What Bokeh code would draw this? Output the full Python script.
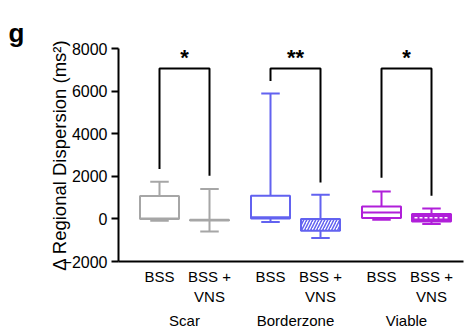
from bokeh.plotting import figure
from bokeh.models import FixedTicker, LinearAxis
from bokeh.core.properties import value
from bokeh.embed import file_html
from bokeh.resources import INLINE

# ---- data ----
groups = ["Scar", "Borderzone", "Viable"]
conditions = ["BSS", "BSS +\nVNS"]
colors = ["#a6a6a6", "#6262f0", "#b01fd9"]
box_min = [-90, -590, -140, -900, -40, -245]
box_q1 = [0, -70, 20, -560, 38, -120]
box_med = [20, -56, 80, -150, 300, 50]
box_q3 = [1080, -40, 1084, -10, 582, 225]
box_max = [1740, 1400, 5890, 1130, 1290, 490]
stars = ["*", "**", "*"]
bracket_top = [7060, 7060, 7060]
leg_left = [2340, 6480, 1930]
leg_right = [2020, 1710, 1085]
y_ticks = [-2000, 0, 2000, 4000, 6000, 8000]

FONT = "Liberation Sans"
GAP = 2.22
BOX_W = 0.78
CAP_W = 0.37

xs = [g * GAP + j + 1 for g in range(len(groups)) for j in range(len(conditions))]
box_colors = [colors[g] for g in range(len(groups)) for j in range(len(conditions))]

p = figure(frame_width=345, frame_height=213, x_range=(0.18, 7.08), y_range=(-2000, 8000),
           output_backend="svg", toolbar_location=None,
           min_border_left=118, min_border_top=48, min_border_right=1, min_border_bottom=0,
           x_axis_location=None)
p.xgrid.visible = False
p.ygrid.visible = False
p.outline_line_color = None
p.background_fill_color = "white"
p.border_fill_color = "white"

# panel letter
p.title.text = "g"
p.title.align = "left"
p.title.offset = -110
p.title.standoff = 2
p.title.text_font = FONT
p.title.text_font_style = "bold"
p.title.text_font_size = "26px"
p.title.text_color = "black"

# y axis
ya = p.yaxis[0]
ya.ticker = FixedTicker(ticks=y_ticks)
ya.axis_line_width = 2
ya.major_tick_line_width = 2
ya.major_tick_out = 7
ya.major_tick_in = 0
ya.minor_tick_line_color = None
ya.major_label_text_font = FONT
ya.major_label_text_font_size = "16px"
ya.major_label_text_color = "black"
ya.major_label_standoff = 4
ya.axis_label = "\u0394 Regional Dispersion (ms\u00b2)"
ya.axis_label_text_font = FONT
ya.axis_label_text_font_size = "18.5px"
ya.axis_label_text_font_style = "normal"
ya.axis_label_text_color = "black"
ya.axis_label_standoff = -10

# x axis with condition labels
xa = LinearAxis(ticker=FixedTicker(ticks=xs),
                major_label_overrides={x: conditions[i % 2] for i, x in enumerate(xs)})
xa.axis_line_width = 2
xa.major_tick_line_color = None
xa.major_tick_out = 0
xa.major_tick_in = 0
xa.minor_tick_line_color = None
xa.major_label_text_font = FONT
xa.major_label_text_font_size = "15px"
xa.major_label_text_color = "black"
xa.major_label_text_line_height = 1.2
xa.major_label_standoff = 6
p.add_layout(xa, "below")

centers = [(xs[2 * g] + xs[2 * g + 1]) / 2 for g in range(len(groups))]
ga = LinearAxis(ticker=FixedTicker(ticks=centers),
                major_label_overrides={c: groups[i] for i, c in enumerate(centers)})
ga.axis_line_color = None
ga.major_tick_line_color = None
ga.major_tick_out = 0
ga.major_tick_in = 0
ga.minor_tick_line_color = None
ga.major_label_text_font = FONT
ga.major_label_text_font_size = "15px"
ga.major_label_text_color = "black"
ga.major_label_standoff = 4
p.add_layout(ga, "below")

# whiskers
p.segment(x0=xs, y0=box_min, x1=xs, y1=box_max, line_color=box_colors, line_width=2)
p.segment(x0=[x - CAP_W / 2 for x in xs], y0=box_max, x1=[x + CAP_W / 2 for x in xs], y1=box_max,
          line_color=box_colors, line_width=2)
p.segment(x0=[x - CAP_W / 2 for x in xs], y0=box_min, x1=[x + CAP_W / 2 for x in xs], y1=box_min,
          line_color=box_colors, line_width=2)

# boxes
fills = ["white", "white", "white", "white", "white", colors[2]]
for i, x in enumerate(xs):
    kw = {}
    if i == 3:
        kw = dict(hatch_pattern="/", hatch_color=colors[1], hatch_scale=6, hatch_weight=1.5)
    p.quad(left=[x - BOX_W / 2], right=[x + BOX_W / 2], bottom=[box_q1[i]], top=[box_q3[i]],
           fill_color=fills[i], line_color=box_colors[i], line_width=2, **kw)
    if i == 5:
        p.segment(x0=[x - BOX_W / 2 + 0.05], y0=[box_med[i]], x1=[x + BOX_W / 2 - 0.05], y1=[box_med[i]],
                  line_color="white", line_width=1.5, line_dash="3 2")
    elif i != 3:
        p.segment(x0=[x - BOX_W / 2], y0=[box_med[i]], x1=[x + BOX_W / 2], y1=[box_med[i]],
                  line_color=box_colors[i], line_width=2)

# significance brackets
bx, by = [], []
for g in range(len(groups)):
    xl, xr = xs[2 * g], xs[2 * g + 1]
    bx.append([xl, xl, xr, xr])
    by.append([leg_left[g], bracket_top[g], bracket_top[g], leg_right[g]])
p.multi_line(xs=bx, ys=by, line_color="black", line_width=2)
p.text(x=centers, y=[b + 500 for b in bracket_top], text=stars, text_font=value(FONT),
       text_font_style="bold", text_font_size="22px", text_align="center", text_baseline="alphabetic",
       text_color="black")

open("out.html", "w").write(file_html(p, INLINE))
